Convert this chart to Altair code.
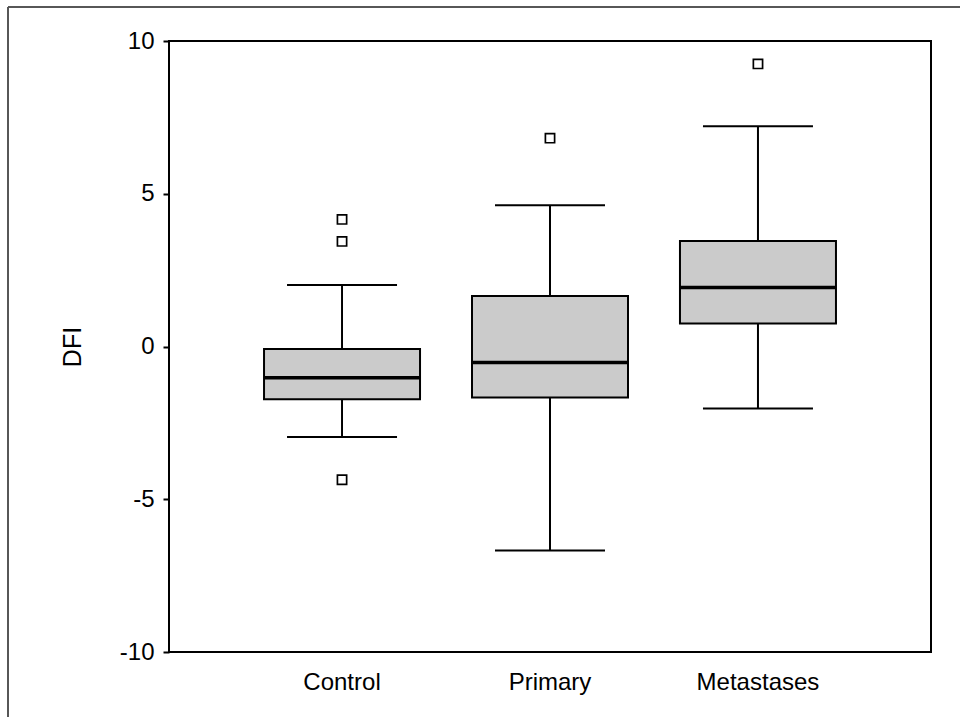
import altair as alt
import pandas as pd

# Summary statistics of DFI per group
groups = ["Control", "Primary", "Metastases"]
lower_whisker = [-2.96, -6.68, -2.03]
q1 = [-1.73, -1.67, 0.75]
median = [-1.02, -0.52, 1.93]
q3 = [-0.08, 1.65, 3.45]
upper_whisker = [2.01, 4.62, 7.21]

# Outlying observations
outlier_group = ["Control", "Control", "Control", "Primary", "Metastases"]
outlier_value = [4.16, 3.44, -4.36, 6.82, 9.25]

y_ticks = [-10, -5, 0, 5, 10]

stats = pd.DataFrame({
    "group": groups,
    "lower": lower_whisker,
    "q1": q1,
    "median": median,
    "q3": q3,
    "upper": upper_whisker,
})
outliers = pd.DataFrame({"group": outlier_group, "value": outlier_value})

FONT = "Liberation Sans"

x_enc = alt.X(
    "group:N",
    sort=groups,
    title=None,
    scale=alt.Scale(paddingInner=0, paddingOuter=0.332),
    axis=alt.Axis(labelAngle=0, ticks=False, tickSize=0, domain=False,
                  labelFontSize=24, labelColor="black", labelPadding=18,
                  labelFont=FONT),
)
y_scale = alt.Scale(domain=[-10, 10], nice=False, zero=False)
y_axis = alt.Axis(values=y_ticks, grid=False, domain=False, tickColor="black",
                  tickSize=6, tickWidth=2, labelFontSize=24, labelColor="black",
                  labelPadding=9, labelFont=FONT,
                  labelExpr="toString(datum.value)",
                  title="DFI", titleFontSize=25,
                  titleFontWeight="normal", titleColor="black", titleFont=FONT,
                  titlePadding=34)

base = alt.Chart(stats)

whiskers = base.mark_rule(color="black", strokeWidth=2, opacity=1).encode(
    x=x_enc,
    y=alt.Y("lower:Q", scale=y_scale, axis=y_axis),
    y2="upper:Q",
)

boxes = base.mark_bar(size=156, fill="#cbcbcb", stroke="black", strokeWidth=2,
                      opacity=1).encode(
    x=x_enc,
    y=alt.Y("q1:Q", scale=y_scale),
    y2="q3:Q",
)

medians = base.mark_tick(size=156, thickness=3.5, color="black", opacity=1).encode(
    x=x_enc,
    y=alt.Y("median:Q", scale=y_scale),
)

caps_low = base.mark_tick(size=110, thickness=2, color="black", opacity=1).encode(
    x=x_enc,
    y=alt.Y("lower:Q", scale=y_scale),
)
caps_high = base.mark_tick(size=110, thickness=2, color="black", opacity=1).encode(
    x=x_enc,
    y=alt.Y("upper:Q", scale=y_scale),
)

points = alt.Chart(outliers).mark_point(
    shape="square", size=85, filled=False, color="black", strokeWidth=1.7,
    fill="white", fillOpacity=1, opacity=1,
).encode(
    x=x_enc,
    y=alt.Y("value:Q", scale=y_scale),
)

# Thin frame around the whole figure (left and top edges)
frame_left = alt.Chart(stats).mark_rule(color="#555555", strokeWidth=1.5).encode(
    x=alt.value(-161), y=alt.value(-34), y2=alt.value(676)
)
frame_top = alt.Chart(stats).mark_rule(color="#555555", strokeWidth=1.5).encode(
    x=alt.value(-161), x2=alt.value(791), y=alt.value(-34)
)

chart = alt.layer(
    whiskers, boxes, medians, caps_low, caps_high, points, frame_left, frame_top
).properties(
    width=762,
    height=611,
    autosize=alt.AutoSizeParams(type="none"),
    padding={"left": 169, "top": 41, "right": 29, "bottom": 65},
    background="white",
).configure_view(
    stroke="black", strokeWidth=2,
)

chart.save("out.html", embed_options={"renderer": "svg", "actions": False})
